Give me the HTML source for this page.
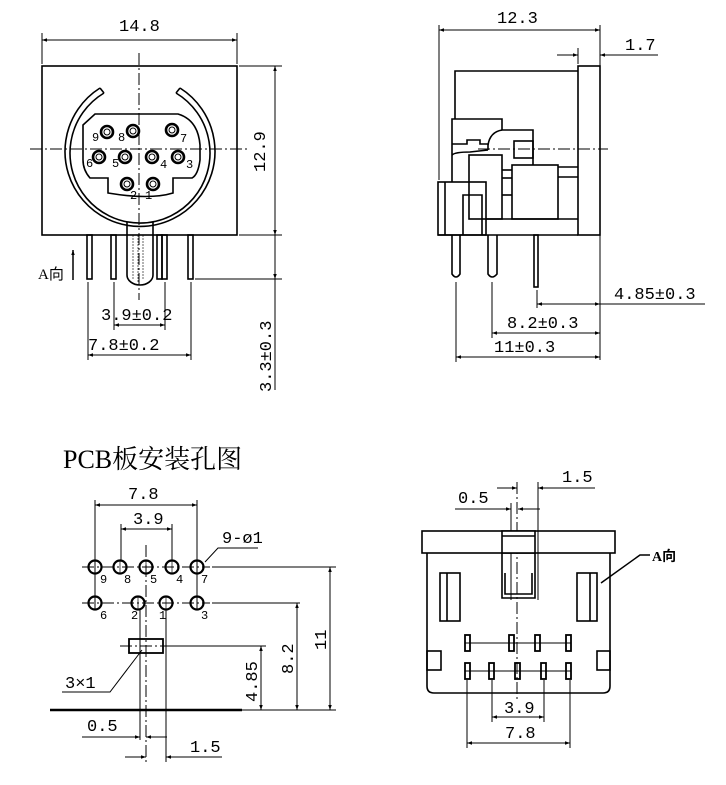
<!DOCTYPE html>
<html><head><meta charset="utf-8"><style>
html,body{margin:0;padding:0;background:#fff}
svg{display:block}
text{font-family:"Liberation Mono","Noto Sans CJK SC",monospace;fill:#000}
</style></head><body>
<svg width="726" height="785" viewBox="0 0 726 785" xmlns="http://www.w3.org/2000/svg">
<defs>
<marker id="a" viewBox="0 0 10 10" refX="10" refY="5" markerWidth="9" markerHeight="5" orient="auto-start-reverse" markerUnits="userSpaceOnUse"><path d="M0,1.5 L10,5 L0,8.5 Z" fill="#000"/></marker>
</defs>
<g fill="none" stroke="#000">
<!-- ============ TOP LEFT ============ -->
<g stroke-width="1">
<line x1="42" y1="33" x2="42" y2="64"/><line x1="237" y1="33" x2="237" y2="64"/>
<line x1="42" y1="40" x2="237" y2="40" marker-start="url(#a)" marker-end="url(#a)"/>
<line x1="139" y1="53" x2="139" y2="300" stroke-dasharray="12,3,2,3"/>
<line x1="30" y1="149" x2="250" y2="149" stroke-dasharray="12,3,2,3"/>
<line x1="239" y1="66" x2="282" y2="66"/><line x1="239" y1="235" x2="282" y2="235"/>
<line x1="195" y1="279" x2="282" y2="279"/>
<line x1="275" y1="66" x2="275" y2="235" marker-start="url(#a)" marker-end="url(#a)"/>
<line x1="275" y1="235" x2="275" y2="390"/>
<line x1="275" y1="260" x2="275" y2="279" marker-end="url(#a)"/>
<line x1="114" y1="282" x2="114" y2="330"/><line x1="165" y1="282" x2="165" y2="330"/>
<line x1="114" y1="325" x2="165" y2="325" marker-start="url(#a)" marker-end="url(#a)"/>
<line x1="88" y1="282" x2="88" y2="360"/><line x1="191" y1="282" x2="191" y2="360"/>
<line x1="88" y1="355" x2="191" y2="355" marker-start="url(#a)" marker-end="url(#a)"/>
<line x1="73" y1="280" x2="73" y2="250" marker-end="url(#a)" stroke-width="1.5"/>
</g>
<g stroke-width="1.6">
<rect x="42" y="66" width="195" height="169"/>
<path d="M100,88 A75,75 0 1 0 180,88"/>
<path d="M104,93 A70,70 0 1 0 176,93"/>
<line x1="100" y1="88" x2="104" y2="93"/><line x1="180" y1="88" x2="176" y2="93"/>
<path d="M95,114 L178,114 Q198,120 200,145 L200,160 Q198,175 192,178 L173,178 L173,193 Q150,200 108,193 L108,178 L90,178 Q83,170 83,160 L83,125 Z"/>
<path d="M127,222 L127,275 A13,10 0 0 0 153,275 L153,222"/>
<rect x="87" y="235" width="5" height="44"/><rect x="111" y="235" width="5" height="44"/>
<rect x="157" y="235" width="5" height="44"/><rect x="162" y="235" width="5" height="44"/>
<rect x="188" y="235" width="5" height="44"/>
</g>
<g stroke-width="0.6" stroke-dasharray="2,1"><line x1="133" y1="235" x2="133" y2="280"/><line x1="138" y1="235" x2="138" y2="282"/><line x1="143" y1="235" x2="143" y2="280"/></g>
<g stroke-width="2.6">
<circle cx="107" cy="132" r="6"/><circle cx="133" cy="131" r="6"/><circle cx="172" cy="130" r="6"/>
<circle cx="99" cy="157" r="6"/><circle cx="125" cy="157" r="6"/><circle cx="152" cy="157" r="6"/><circle cx="178" cy="157" r="6"/>
<circle cx="127" cy="184" r="6"/><circle cx="153" cy="184" r="6"/>
</g>
<g stroke-width="1">
<circle cx="107" cy="132" r="3"/><circle cx="133" cy="131" r="3"/><circle cx="172" cy="130" r="3"/>
<circle cx="99" cy="157" r="3"/><circle cx="125" cy="157" r="3"/><circle cx="152" cy="157" r="3"/><circle cx="178" cy="157" r="3"/>
<circle cx="127" cy="184" r="3"/><circle cx="153" cy="184" r="3"/>
</g>
<!-- ============ TOP RIGHT ============ -->
<g stroke-width="1">
<line x1="439" y1="25" x2="439" y2="180"/><line x1="600" y1="25" x2="600" y2="360"/>
<line x1="439" y1="30" x2="600" y2="30" marker-start="url(#a)" marker-end="url(#a)"/>
<line x1="578" y1="48" x2="578" y2="64"/>
<line x1="557" y1="55" x2="578" y2="55" marker-end="url(#a)"/>
<line x1="658" y1="55" x2="600" y2="55" marker-end="url(#a)"/>
<line x1="478" y1="149" x2="608" y2="149" stroke-dasharray="12,3,2,3"/>
<line x1="537" y1="290" x2="537" y2="308"/>
<line x1="537" y1="304" x2="600" y2="304" marker-start="url(#a)" marker-end="url(#a)"/>
<line x1="600" y1="304" x2="705" y2="304"/>
<line x1="492" y1="282" x2="492" y2="338"/>
<line x1="492" y1="333" x2="600" y2="333" marker-start="url(#a)" marker-end="url(#a)"/>
<line x1="456" y1="282" x2="456" y2="362"/>
<line x1="456" y1="357" x2="600" y2="357" marker-start="url(#a)" marker-end="url(#a)"/>
</g>
<g stroke-width="1.6">
<rect x="578" y="66" width="22" height="169"/>
<path d="M455,119 L455,71 L578,71"/>
<path d="M452,182 L452,119 L502,119 L502,130 L533,130 L533,165"/>
<path d="M502,130 Q490,132 488,145"/>
<path d="M452,144 L467,144 L467,140 L480,140 L480,144 L488,144 L488,150"/>
<path d="M452,155 Q455,152 470,152 L488,150"/>
<rect x="514" y="141" width="19" height="17"/>
<rect x="469" y="155" width="33" height="64"/>
<rect x="512" y="165" width="46" height="54"/>
<line x1="558" y1="167" x2="578" y2="167"/><line x1="558" y1="177" x2="578" y2="177"/>
<line x1="502" y1="170" x2="512" y2="170"/><line x1="502" y1="178" x2="512" y2="178"/><line x1="502" y1="195" x2="512" y2="195"/>
<path d="M486,219 L578,219"/>
<path d="M438,235 L578,235"/>
<rect x="438" y="182" width="48" height="53"/>
<line x1="445" y1="182" x2="445" y2="235"/>
<path d="M463,235 L463,195 L482,195 L482,235"/>
<path d="M452,235 L452,274 Q456,280 460,274 L460,235"/>
<path d="M488,235 L488,274 Q492,280 497,274 L497,235"/>
<rect x="534" y="235" width="4" height="52"/>
</g>
<!-- ============ BOTTOM LEFT ============ -->
<g stroke-width="1">
<line x1="95" y1="500" x2="95" y2="610"/><line x1="197" y1="500" x2="197" y2="610"/>
<line x1="95" y1="505" x2="197" y2="505" marker-start="url(#a)" marker-end="url(#a)"/>
<line x1="121" y1="524" x2="121" y2="560"/><line x1="172" y1="524" x2="172" y2="560"/>
<line x1="121" y1="529" x2="172" y2="529" marker-start="url(#a)" marker-end="url(#a)"/>
<line x1="146" y1="545" x2="146" y2="765" stroke-dasharray="12,3,2,3"/>
<line x1="82" y1="567" x2="210" y2="567" stroke-dasharray="12,3,2,3"/>
<line x1="212" y1="567" x2="336" y2="567"/>
<line x1="82" y1="603" x2="210" y2="603" stroke-dasharray="12,3,2,3"/>
<line x1="212" y1="603" x2="300" y2="603"/>
<line x1="120" y1="646" x2="172" y2="646" stroke-dasharray="12,3,2,3"/>
<line x1="172" y1="646" x2="266" y2="646"/>
<line x1="140" y1="610" x2="140" y2="740"/><line x1="166" y1="610" x2="166" y2="762"/>
<line x1="261" y1="646" x2="261" y2="710" marker-start="url(#a)" marker-end="url(#a)"/>
<line x1="297" y1="603" x2="297" y2="710" marker-start="url(#a)" marker-end="url(#a)"/>
<line x1="330" y1="567" x2="330" y2="710" marker-start="url(#a)" marker-end="url(#a)"/>
<line x1="242" y1="710" x2="336" y2="710"/>
<path d="M205,562 L218,548 L258,548"/>
<path d="M62,692 L110,692 L142,650"/>
<line x1="82" y1="737" x2="140" y2="737" marker-end="url(#a)"/>
<line x1="167" y1="737" x2="146" y2="737" marker-end="url(#a)"/>
<line x1="125" y1="757" x2="146" y2="757" marker-end="url(#a)"/>
<line x1="222" y1="757" x2="166" y2="757" marker-end="url(#a)"/>
</g>
<line x1="50" y1="710" x2="242" y2="710" stroke-width="2.5"/>
<g stroke-width="2.2">
<circle cx="95" cy="567" r="6.5"/><circle cx="120" cy="567" r="6.5"/><circle cx="146" cy="567" r="6.5"/><circle cx="172" cy="567" r="6.5"/><circle cx="197" cy="567" r="6.5"/>
<circle cx="95" cy="603" r="6.5"/><circle cx="138" cy="603" r="6.5"/><circle cx="166" cy="603" r="6.5"/><circle cx="197" cy="603" r="6.5"/>
</g>
<g stroke-width="0.7">
<path d="M95,561V573M120,561V573M146,561V573M172,561V573M197,561V573M95,597V609M138,597V609M166,597V609M197,597V609"/>
</g>
<rect x="129" y="639" width="34" height="14" stroke-width="1.8"/>
<!-- ============ BOTTOM RIGHT ============ -->
<g stroke-width="1">
<line x1="517" y1="482" x2="517" y2="700" stroke-dasharray="12,3,2,3"/>
<line x1="511" y1="503" x2="511" y2="600"/>
<line x1="538" y1="482" x2="538" y2="600"/>
<line x1="497" y1="488" x2="517" y2="488" marker-end="url(#a)"/>
<line x1="595" y1="488" x2="538" y2="488" marker-end="url(#a)"/>
<line x1="455" y1="509" x2="511" y2="509" marker-end="url(#a)"/>
<line x1="540" y1="509" x2="518" y2="509" marker-end="url(#a)"/>
<line x1="492" y1="680" x2="492" y2="722"/><line x1="544" y1="680" x2="544" y2="722"/>
<line x1="492" y1="717" x2="544" y2="717" marker-start="url(#a)" marker-end="url(#a)"/>
<line x1="467" y1="680" x2="467" y2="748"/><line x1="570" y1="680" x2="570" y2="748"/>
<line x1="467" y1="743" x2="570" y2="743" marker-start="url(#a)" marker-end="url(#a)"/>
<path d="M601,583 L640,555 L650,555" stroke-width="1.5"/>
</g>
<g stroke-width="1.6">
<rect x="422" y="531" width="193" height="22"/>
<path d="M427,553 L427,686 Q427,693 434,693 L603,693 Q610,693 610,686 L610,553"/>
<rect x="502" y="531" width="33" height="22" fill="#fff"/>
<line x1="502" y1="536" x2="535" y2="536"/>
<path d="M502,553 L502,598 L535,598 L535,553"/>
<path d="M505,573 L505,594 L532,594 L532,573"/>
<rect x="440" y="573" width="20" height="48"/><line x1="447" y1="573" x2="447" y2="621"/>
<rect x="577" y="573" width="20" height="48"/><line x1="590" y1="573" x2="590" y2="621"/>
<rect x="427" y="651" width="14" height="19"/><rect x="597" y="651" width="13" height="19"/>
</g>
<g stroke-width="1.8">
<rect x="465" y="635" width="5" height="16"/><rect x="509" y="635" width="5" height="16"/><rect x="535" y="635" width="5" height="16"/><rect x="566" y="635" width="5" height="16"/>
<rect x="465" y="663" width="5" height="16"/><rect x="489" y="663" width="5" height="16"/><rect x="515" y="663" width="5" height="16"/><rect x="541" y="663" width="5" height="16"/><rect x="566" y="663" width="5" height="16"/>
</g>
<g stroke-width="1"><line x1="465" y1="643" x2="571" y2="643"/><line x1="465" y1="671" x2="571" y2="671"/></g>
</g>
<!-- ============ TEXT ============ -->
<g font-size="17">
<text x="119" y="31">14.8</text>
<text x="265" y="172" transform="rotate(-90 265 172)">12.9</text>
<text x="101" y="320">3.9±0.2</text>
<text x="88" y="350">7.8±0.2</text>
<text x="271" y="392" transform="rotate(-90 271 392)">3.3±0.3</text>
<text x="497" y="23">12.3</text>
<text x="625" y="50">1.7</text>
<text x="614" y="299">4.85±0.3</text>
<text x="507" y="328">8.2±0.3</text>
<text x="494" y="352">11±0.3</text>
<text x="128" y="499">7.8</text>
<text x="133" y="524">3.9</text>
<text x="222" y="543">9-ø1</text>
<text x="65" y="688">3×1</text>
<text x="257" y="702" transform="rotate(-90 257 702)">4.85</text>
<text x="293" y="674" transform="rotate(-90 293 674)">8.2</text>
<text x="326" y="650" transform="rotate(-90 326 650)">11</text>
<text x="87" y="731">0.5</text>
<text x="190" y="752">1.5</text>
<text x="562" y="482">1.5</text>
<text x="458" y="503">0.5</text>
<text x="504" y="713">3.9</text>
<text x="505" y="738">7.8</text>
</g>
<g font-size="12" style="font-family:'Liberation Serif',serif">
<text x="92" y="141">9</text><text x="118" y="141">8</text><text x="180" y="142">7</text>
<text x="86" y="167">6</text><text x="112" y="167">5</text><text x="160" y="168">4</text><text x="186" y="168">3</text>
<text x="130" y="199">2</text><text x="145" y="199">1</text>
<text x="100" y="583">9</text><text x="124" y="583">8</text><text x="150" y="583">5</text><text x="176" y="583">4</text><text x="201" y="583">7</text>
<text x="100" y="619">6</text><text x="131" y="619">2</text><text x="159" y="619">1</text><text x="201" y="619">3</text>
</g>
<text x="38" y="279" font-size="15" style="font-family:'Liberation Serif','Noto Sans CJK SC',serif">A向</text>
<text x="652" y="561" font-size="14" font-weight="bold" style="font-family:'Liberation Serif','Noto Sans CJK SC',serif">A向</text>
<text x="63" y="468" font-size="26" style="font-family:'Liberation Serif','Noto Serif CJK SC',serif">PCB板安装孔图</text>
</svg>
</body></html>
